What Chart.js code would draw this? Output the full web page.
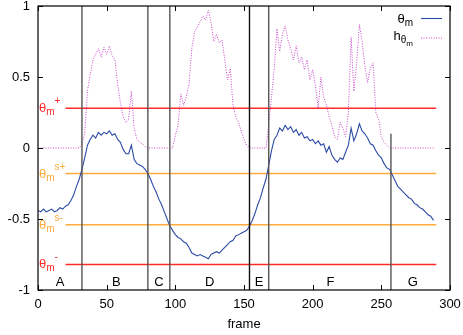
<!DOCTYPE html>
<html lang="en">
<head>
  <meta charset="UTF-8">
  <title>Theta m over frames</title>
  <script src="https://cdn.jsdelivr.net/npm/chart.js"></script>
  <style>
    html, body {
      margin: 0;
      padding: 0;
      background: #fff;
    }
    .chart-container {
      width: 463px;
      height: 335px;
    }
  </style>
</head>
<body>

  <div class="chart-container">
    <canvas id="thetaChart" width="463" height="335"></canvas>
  </div>

  <script>
    const FONT = '"Liberation Sans", Arial, sans-serif';

    // frame index of every sample
    const frames = [
      0, 2, 4, 6, 8, 10, 12, 14, 16, 18, 20, 22, 24, 26, 28, 30, 32, 34, 36, 38,
      40, 42, 44, 46, 48, 50, 52, 54, 56, 58, 60, 62, 64, 66, 68, 70, 72, 74, 76, 78,
      80, 82, 84, 86, 88, 90, 92, 94, 96, 98, 100, 102, 104, 106, 108, 110, 112, 114, 116, 118,
      120, 122, 124, 126, 128, 130, 132, 134, 136, 138, 140, 142, 144, 146, 148, 150, 152, 154, 156, 158,
      160, 162, 164, 166, 168, 170, 172, 174, 176, 178, 180, 182, 184, 186, 188, 190, 192, 194, 196, 198,
      200, 202, 204, 206, 208, 210, 212, 214, 216, 218, 220, 222, 224, 226, 228, 230, 232, 234, 236, 238,
      240, 242, 244, 246, 248, 250, 252, 254, 256, 258, 260, 262, 264, 266, 268, 270, 272, 274, 276, 278,
      280, 282, 284, 286, 288
    ];

    // theta_m
    const theta = [
      -0.44, -0.45, -0.43, -0.45, -0.44, -0.43, -0.45, -0.44, -0.42, -0.43, -0.41, -0.40, -0.37, -0.33, -0.27, -0.22, -0.15, -0.07, 0.02, 0.06,
      0.09, 0.07, 0.11, 0.09, 0.11, 0.10, 0.12, 0.09, 0.10, 0.06, 0.04, -0.01, -0.04, -0.04, 0.02, -0.08, -0.11, -0.12, -0.13, -0.15,
      -0.18, -0.22, -0.27, -0.31, -0.36, -0.40, -0.45, -0.50, -0.55, -0.58, -0.61, -0.63, -0.64, -0.66, -0.67, -0.70, -0.74, -0.75, -0.76, -0.75,
      -0.76, -0.77, -0.78, -0.75, -0.74, -0.73, -0.74, -0.72, -0.70, -0.68, -0.66, -0.65, -0.62, -0.61, -0.60, -0.59, -0.58, -0.55, -0.51, -0.46,
      -0.40, -0.35, -0.28, -0.22, -0.12, -0.02, 0.06, 0.09, 0.14, 0.12, 0.16, 0.13, 0.15, 0.11, 0.13, 0.09, 0.11, 0.07, 0.08, 0.05,
      0.06, 0.03, 0.05, 0.02, 0.03, -0.03, 0.01, -0.05, -0.08, -0.10, -0.07, -0.08, -0.03, 0.02, 0.14, 0.05, 0.10, 0.17, 0.12, 0.10,
      0.07, 0.03, 0.02, -0.02, -0.05, -0.07, -0.11, -0.14, -0.15, -0.19, -0.23, -0.27, -0.29, -0.31, -0.33, -0.35, -0.36, -0.39, -0.40, -0.42,
      -0.43, -0.45, -0.47, -0.48, -0.51
    ];

    // h_theta_m
    const hTheta = [
      0, 0, 0, 0, 0, 0, 0, 0, 0, 0, 0, 0, 0, 0, 0, 0, 0.03, 0.10, 0.40, 0.52,
      0.62, 0.66, 0.70, 0.64, 0.71, 0.66, 0.72, 0.65, 0.62, 0.45, 0.32, 0.22, 0.18, 0.20, 0.40, 0.14, 0.06, 0.04, 0.03, 0.01,
      0, 0, 0, 0, 0, 0, 0, 0, 0, 0, 0.09, 0.16, 0.38, 0.30, 0.36, 0.45, 0.70, 0.82, 0.85, 0.89,
      0.93, 0.90, 0.97, 0.88, 0.75, 0.80, 0.74, 0.76, 0.62, 0.48, 0.56, 0.30, 0.22, 0.18, 0.12, 0.06, 0.02, 0, 0, 0,
      0, 0, 0, 0, 0.16, 0.36, 0.55, 0.84, 0.68, 0.80, 0.86, 0.76, 0.70, 0.62, 0.72, 0.60, 0.64, 0.55, 0.62, 0.48,
      0.55, 0.44, 0.28, 0.50, 0.36, 0.30, 0.22, 0.16, 0.08, 0.06, 0.18, 0.14, 0.08, 0.25, 0.78, 0.40, 0.60, 0.87, 0.75, 0.58,
      0.46, 0.56, 0.60, 0.25, 0.20, 0.08, 0.04, 0.02, 0, 0, 0, 0, 0, 0, 0, 0, 0, 0, 0, 0,
      0, 0, 0, 0, 0
    ];

    // threshold levels: theta_m+, theta_m s+, theta_m s-, theta_m-
    const thresholds = [0.28, -0.18, -0.54, -0.82];
    const thresholdSup = ['+', 's+', 's-', '-'];
    const thresholdRange = [20, 290];

    // phase boundaries (frame) and how high each boundary line reaches
    const boundaries = [32, 80, 96, 154, 168, 257];
    const boundaryTop = [1, 1, 1, 1, 1, 0.1];

    const phaseNames = ['A', 'B', 'C', 'D', 'E', 'F', 'G'];
    const phaseCenters = [16, 57, 88, 125, 161, 213, 273];
    const phaseLabelY = -0.95;

    const xTickLabels = ['0', '50', '100', '150', '200', '250', '300'];
    const yTickLabels = ['-1', '-0.5', '0', '0.5', '1'];

    const RED = '#ff2a2a';
    const ORANGE = '#ffaa3c';
    const BLUE = '#2c4ba6';
    const MAGENTA = '#c845c8';

    const datasets = [
      {
        label: 'theta',
        data: frames.map((f, i) => ({ x: f, y: theta[i] })),
        borderColor: BLUE,
        borderWidth: 1.1,
        pointRadius: 0,
        order: 1
      },
      {
        label: 'h',
        data: frames.map((f, i) => ({ x: f, y: hTheta[i] })),
        borderColor: MAGENTA,
        borderWidth: 1,
        borderDash: [1, 1.5],
        pointRadius: 0,
        order: 2
      }
    ];

    thresholds.forEach((t, i) => {
      datasets.push({
        label: 'thr' + i,
        data: [{ x: thresholdRange[0], y: t }, { x: thresholdRange[1], y: t }],
        borderColor: (i === 0 || i === 3) ? RED : ORANGE,
        borderWidth: 1.4,
        pointRadius: 0,
        order: 3
      });
    });

    boundaries.forEach((b, i) => {
      datasets.push({
        label: 'bnd' + i,
        data: [{ x: b, y: -1 }, { x: b, y: boundaryTop[i] }],
        borderColor: i === 3 ? '#111' : '#555',
        borderWidth: 1.4,
        pointRadius: 0,
        order: 0
      });
    });

    // draws text with gnuplot-like sub/superscripts
    function richWidth(ctx, parts) {
      let w = 0;
      parts.forEach(p => {
        ctx.font = p.size + 'px ' + FONT;
        w += ctx.measureText(p.t).width;
      });
      return w;
    }
    function drawRich(ctx, x, y, parts, color, align) {
      ctx.save();
      ctx.fillStyle = color;
      ctx.textBaseline = 'alphabetic';
      ctx.textAlign = 'left';
      if (align === 'right') x -= richWidth(ctx, parts);
      parts.forEach(p => {
        ctx.font = p.size + 'px ' + FONT;
        ctx.fillText(p.t, x, y + p.dy);
        x += ctx.measureText(p.t).width;
      });
      ctx.restore();
    }

    const decorations = {
      id: 'decorations',
      afterDatasetsDraw(chart) {
        const ctx = chart.ctx;
        const xs = chart.scales.x;
        const ys = chart.scales.y;
        const a = chart.chartArea;

        // frame box
        ctx.save();
        ctx.strokeStyle = '#000';
        ctx.lineWidth = 1.2;
        ctx.strokeRect(a.left, a.top, a.right - a.left, a.bottom - a.top);

        // inward ticks on all four sides
        ctx.lineWidth = 1;
        ctx.beginPath();
        xTickLabels.forEach(l => {
          const px = Math.round(xs.getPixelForValue(Number(l))) + 0.5;
          ctx.moveTo(px, a.bottom); ctx.lineTo(px, a.bottom - 5);
          ctx.moveTo(px, a.top); ctx.lineTo(px, a.top + 5);
        });
        yTickLabels.forEach(l => {
          const py = Math.round(ys.getPixelForValue(Number(l))) + 0.5;
          ctx.moveTo(a.left, py); ctx.lineTo(a.left + 5, py);
          ctx.moveTo(a.right, py); ctx.lineTo(a.right - 5, py);
        });
        ctx.stroke();
        ctx.restore();

        // threshold labels on the left
        thresholds.forEach((t, i) => {
          const py = ys.getPixelForValue(t) + 4;
          drawRich(ctx, a.left + 1, py, [
            { t: 'θ', size: 13, dy: 0 },
            { t: 'm', size: 10, dy: 3 },
            { t: thresholdSup[i], size: 10, dy: -8 }
          ], (i === 0 || i === 3) ? RED : ORANGE);
        });

        // phase letters
        ctx.save();
        ctx.fillStyle = '#000';
        ctx.font = '13px ' + FONT;
        ctx.textAlign = 'center';
        ctx.textBaseline = 'middle';
        phaseNames.forEach((n, i) => {
          ctx.fillText(n, xs.getPixelForValue(phaseCenters[i]), ys.getPixelForValue(phaseLabelY));
        });
        ctx.restore();

        // key
        const textRight = a.right - 37;
        drawRich(ctx, textRight, a.top + 17, [
          { t: 'θ', size: 13, dy: 0 },
          { t: 'm', size: 10, dy: 3 }
        ], '#000', 'right');
        drawRich(ctx, textRight, a.top + 34, [
          { t: 'h', size: 13, dy: 0 },
          { t: 'θ', size: 10, dy: 3 },
          { t: 'm', size: 8, dy: 6 }
        ], '#000', 'right');

        ctx.save();
        ctx.lineWidth = 1.1;
        ctx.strokeStyle = BLUE;
        ctx.beginPath();
        ctx.moveTo(a.right - 29, a.top + 12.5);
        ctx.lineTo(a.right - 8, a.top + 12.5);
        ctx.stroke();
        ctx.strokeStyle = MAGENTA;
        ctx.lineWidth = 1;
        ctx.setLineDash([1, 1.5]);
        ctx.beginPath();
        ctx.moveTo(a.right - 29, a.top + 32);
        ctx.lineTo(a.right - 8, a.top + 32);
        ctx.stroke();
        ctx.restore();
      }
    };

    new Chart(document.getElementById('thetaChart'), {
      type: 'line',
      data: { datasets },
      options: {
        responsive: false,
        animation: false,
        layout: { padding: { top: 6, right: 13, left: 0, bottom: 0 } },
        plugins: {
          legend: { display: false },
          tooltip: { enabled: false }
        },
        scales: {
          x: {
            type: 'linear',
            min: 0,
            max: 300,
            grid: { display: false, drawTicks: false },
            border: { display: false },
            ticks: {
              stepSize: 50,
              padding: 7,
              maxRotation: 0,
              color: '#000',
              font: { size: 13, family: FONT },
              callback: v => xTickLabels[xTickLabels.indexOf(String(v))]
            },
            title: {
              display: true,
              text: 'frame',
              color: '#000',
              font: { size: 13, family: FONT },
              padding: { top: 0, bottom: 3 }
            },
            afterFit: s => { s.height = 45; s.paddingLeft = 0; s.paddingRight = 0; }
          },
          y: {
            type: 'linear',
            min: -1,
            max: 1,
            grid: { display: false, drawTicks: false },
            border: { display: false },
            ticks: {
              stepSize: 0.5,
              padding: 8,
              color: '#000',
              font: { size: 13, family: FONT },
              callback: v => yTickLabels[yTickLabels.indexOf(String(v))]
            },
            afterFit: s => { s.width = 38; s.paddingTop = 0; s.paddingBottom = 0; }
          }
        }
      },
      plugins: [decorations]
    });
  </script>

</body>
</html>
